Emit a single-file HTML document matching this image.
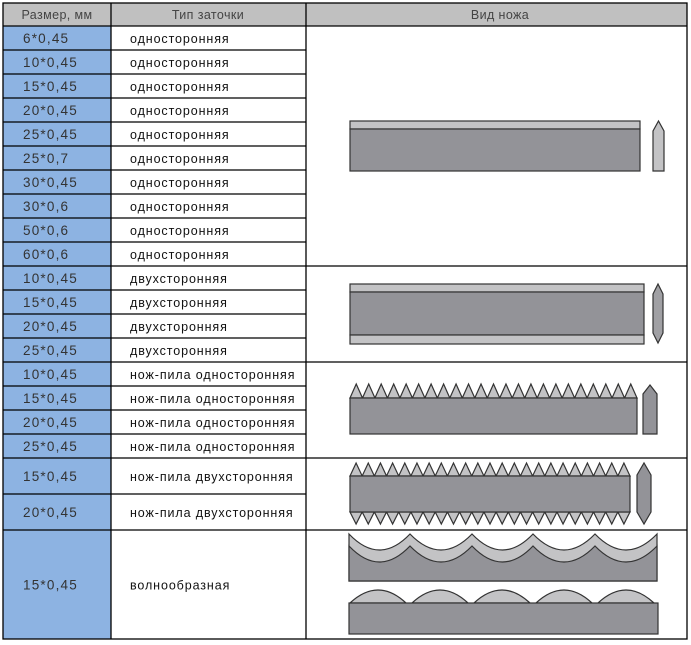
<!DOCTYPE html>
<html><head><meta charset="utf-8"><style>
body{margin:0;background:#fff;}
svg{display:block;font-family:"Liberation Sans","DejaVu Sans",sans-serif;}
</style></head><body>
<svg id="s" width="691" height="645" viewBox="0 0 691 645" xmlns="http://www.w3.org/2000/svg">
<rect x="3" y="3" width="684" height="23" fill="#c0c0c0"/>
<rect x="3" y="26" width="108" height="613" fill="#8db3e2"/>
<g fill="#444" font-size="12.5" letter-spacing="0.4">
<text x="57" y="19" text-anchor="middle">Размер, мм</text>
<text x="208" y="19" text-anchor="middle">Тип заточки</text>
<text x="500" y="19" text-anchor="middle">Вид ножа</text>
</g>
<g id="rows" font-size="12.5"></g>
<g stroke="#000" stroke-width="1.3" fill="none">
<rect x="3" y="3" width="684" height="636"/>
<line x1="111" y1="3" x2="111" y2="639"/>
<line x1="306" y1="3" x2="306" y2="639"/>
<line x1="3" y1="26" x2="687" y2="26"/>
<g id="hl"></g>
</g>
<g stroke="#333" stroke-width="1.2">
<rect x="350" y="121" width="290" height="8" fill="#c3c3c5"/>
<rect x="350" y="129" width="290" height="42" fill="#939398"/>
<polygon points="653,171 653,131 658.5,121 664,131 664,171" fill="#c3c3c5"/>
<rect x="350" y="284" width="294" height="8" fill="#c3c3c5"/>
<rect x="350" y="292" width="294" height="43" fill="#939398"/>
<rect x="350" y="335" width="294" height="9" fill="#c3c3c5"/>
<polygon points="653,294 658,284 663,294 663,333 658,343 653,333" fill="#a0a0a4"/>
<polygon id="saw1" fill="#c3c3c5"/>
<rect x="350" y="398" width="287" height="36" fill="#939398"/>
<polygon points="643,434 643,394 650,385 657,394 657,434" fill="#939398"/>
<polygon id="saw2a" fill="#c3c3c5"/>
<polygon id="saw2b" fill="#c3c3c5"/>
<rect x="350" y="476" width="280" height="36" fill="#939398"/>
<polygon points="637,475 644,463 651,475 651,512 644,524 637,512" fill="#939398"/>
<path id="w1" fill="#c3c3c5"/>
<path id="w2" fill="#939398"/>
<path id="hump" fill="#c3c3c5"/>
<rect x="349" y="603" width="309" height="31" fill="#939398"/>
</g>
</svg>
<script>
var rows=[["6*0,45","односторонняя"],["10*0,45","односторонняя"],["15*0,45","односторонняя"],["20*0,45","односторонняя"],["25*0,45","односторонняя"],["25*0,7","односторонняя"],["30*0,45","односторонняя"],["30*0,6","односторонняя"],["50*0,6","односторонняя"],["60*0,6","односторонняя"],["10*0,45","двухсторонняя"],["15*0,45","двухсторонняя"],["20*0,45","двухсторонняя"],["25*0,45","двухсторонняя"],["10*0,45","нож-пила односторонняя"],["15*0,45","нож-пила односторонняя"],["20*0,45","нож-пила односторонняя"],["25*0,45","нож-пила односторонняя"],["15*0,45","нож-пила двухсторонняя"],["20*0,45","нож-пила двухсторонняя"],["15*0,45","волнообразная"]];
var ys=[26,50,74,98,122,146,170,194,218,242,266,290,314,338,362,386,410,434,458,494,530,639];
var full={266:1,362:1,458:1,530:1};
var ns="http://www.w3.org/2000/svg",g=document.getElementById("rows"),hl=document.getElementById("hl");
function el(t,a,p,txt){var e=document.createElementNS(ns,t);for(var k in a)e.setAttribute(k,a[k]);if(txt)e.textContent=txt;p.appendChild(e);return e;}
for(var i=0;i<rows.length;i++){var m=(ys[i]+ys[i+1])/2+5;
el("text",{x:23,y:m,fill:"#333","font-size":"13.5","letter-spacing":"1.2"},g,rows[i][0]);
el("text",{x:130,y:m,fill:"#111","letter-spacing":"0.9"},g,rows[i][1]);
if(i>0){el("line",{x1:3,y1:ys[i],x2:full[ys[i]]?687:306,y2:ys[i]},hl);}}
function teeth(x0,x1,n,base,tip){var w=(x1-x0)/n,p=[x0+","+base];for(var i=0;i<n;i++){p.push((x0+w*i+w/2)+","+tip);p.push((x0+w*(i+1))+","+base);}p.push(x1+","+base);return p.join(" ");}
document.getElementById("saw1").setAttribute("points",teeth(350,637,23,398,384));
document.getElementById("saw2a").setAttribute("points",teeth(350,630,23,476,463));
document.getElementById("saw2b").setAttribute("points",teeth(350,630,23,512,524));
var px=[349,410,472,533,595,657],d1="M349,534",d2="M349,546";
for(var i=0;i<5;i++){d1+=" Q"+((px[i]+px[i+1])/2)+",566 "+px[i+1]+",534";d2+=" Q"+((px[i]+px[i+1])/2)+",578 "+px[i+1]+",546";}
document.getElementById("w1").setAttribute("d",d1+" L657,581 L349,581 Z");
document.getElementById("w2").setAttribute("d",d2+" L657,581 L349,581 Z");
var hx=[350,412,474,536,598],h="";
for(var i=0;i<5;i++){h+="M"+hx[i]+",603 Q"+(hx[i]+28)+",577 "+(hx[i]+56)+",603 Z ";}
document.getElementById("hump").setAttribute("d",h);
</script>
</body></html>
